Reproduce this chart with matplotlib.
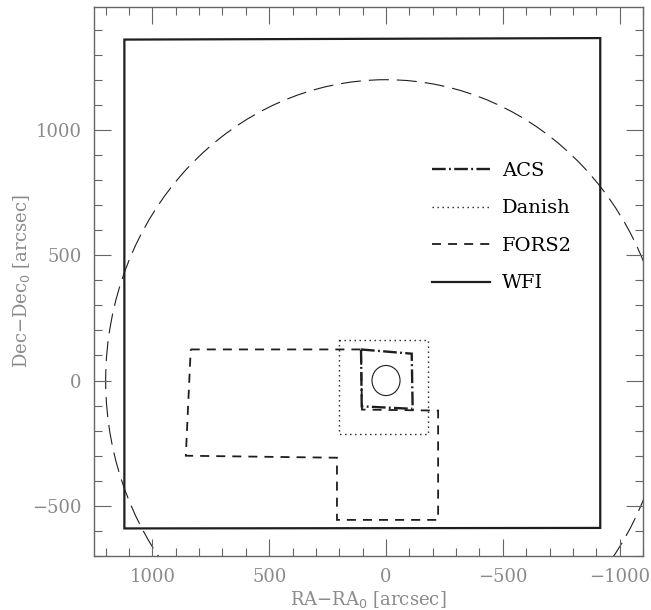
"""Field layout of the imaging pointings around the cluster centre."""
import matplotlib
matplotlib.use("Agg")
import matplotlib.pyplot as plt
from matplotlib.patches import Circle, Polygon
from matplotlib.ticker import MultipleLocator

# outlines in arcsec offsets (RA-RA0, Dec-Dec0)
wfi_ra = [1120, -917, -917, 1120]
wfi_dec = [1360, 1366, -588, -590]

fors2_ra = [836, 107, 103, -223, -223, 210, 210, 857]
fors2_dec = [124, 124, -116, -120, -556, -556, -308, -300]

danish_ra = [200, -180, -180, 200]
danish_dec = [160, 160, -215, -215]

acs_ra = [107, -110, -114, 104]
acs_dec = [124, 107, -113, -103]

outer_radius = 1200
inner_radius = 60

GRAY = "#666666"
LABEL = "#8a8a8a"
INK = "#1e1e1e"

plt.rcParams["font.family"] = ["DejaVu Serif"]

fig = plt.figure(figsize=(6.51, 6.10), dpi=100)
ax = fig.add_axes([94 / 651, 1 - 556 / 610, 549 / 651, 549 / 610])


def outline(ra, dec, **kw):
    poly = Polygon(list(zip(ra, dec)), closed=True, fill=False, **kw)
    ax.add_patch(poly)


outline(wfi_ra, wfi_dec, color=INK, lw=1.6, ls="-", joinstyle="miter")
outline(fors2_ra, fors2_dec, color=INK, lw=1.3, ls=(0, (5, 3.9)))
outline(danish_ra, danish_dec, color=INK, lw=1.0, ls=(0, (1, 2.6)))
outline(acs_ra, acs_dec, color=INK, lw=1.7, ls=(0, (5.8, 1.4, 0.8, 1.4)))

ax.add_patch(Circle((0, 0), outer_radius, fill=False, color=INK, lw=0.8,
                    ls=(0, (18, 7.2))))
ax.add_patch(Circle((0, 0), inner_radius, fill=False, color=INK, lw=0.8))

# legend proxies
ax.plot([], [], color=INK, lw=1.7, ls=(0, (5.8, 1.4, 0.8, 1.4)), label="ACS")
ax.plot([], [], color=INK, lw=1.0, ls=(0, (1, 2.6)), label="Danish")
ax.plot([], [], color=INK, lw=1.3, ls=(0, (5, 3.9)), label="FORS2")
ax.plot([], [], color=INK, lw=1.6, ls="-", label="WFI")
ax.legend(loc="upper left", bbox_to_anchor=(432 / 651, 1 - 162 / 610),
          bbox_transform=fig.transFigure, frameon=False, fontsize=14,
          handlelength=3.0, handletextpad=0.6, labelspacing=1.0,
          borderpad=0, borderaxespad=0)

ax.set_xlim(1250, -1100)
ax.set_ylim(-700, 1490)

ax.xaxis.set_major_locator(MultipleLocator(500))
ax.xaxis.set_minor_locator(MultipleLocator(100))
ax.yaxis.set_major_locator(MultipleLocator(500))
ax.yaxis.set_minor_locator(MultipleLocator(100))
ax.tick_params(which="both", direction="in", top=True, right=True,
               color=GRAY, labelcolor=LABEL, labelsize=13, pad=9)
ax.tick_params(which="major", length=12, width=0.8)
ax.tick_params(which="minor", length=6, width=0.8)
for sp in ax.spines.values():
    sp.set_color(GRAY)
    sp.set_linewidth(1.0)

ax.set_xlabel(r"RA$-$RA$_0$ [arcsec]", fontsize=13, color=LABEL, labelpad=2)
ax.set_ylabel(r"Dec$-$Dec$_0$ [arcsec]", fontsize=13, color=LABEL, labelpad=0)

fig.savefig("out.png", dpi=100)
